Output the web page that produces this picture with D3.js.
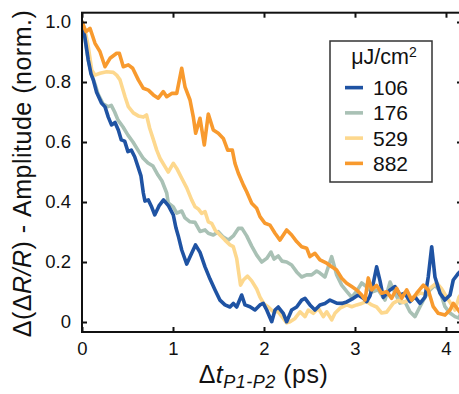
<!DOCTYPE html>
<html><head><meta charset="utf-8">
<script src="https://cdn.jsdelivr.net/npm/d3@7"></script>
<style>
body{margin:0;background:#fff}
text{font-family:"Liberation Sans",Arial,Helvetica,sans-serif;fill:#111}
</style>
</head><body>
<svg id="chart" width="459" height="394"></svg>
<script>
// ---- data ----
const seriesNames = ["106", "176", "529", "882"];
const seriesColors = ["#1f53a3", "#a9c1b5", "#fdd88e", "#f89a2e"];

const t106 = [0,0.033,0.069,0.099,0.124,0.159,0.214,0.253,0.289,0.324,0.363,0.399,0.432,0.469,0.505,0.542,0.579,0.615,0.648,0.674,0.692,0.729,0.766,0.799,0.846,0.896,0.951,1.003,1.033,1.058,1.096,1.151,1.205,1.247,1.297,1.352,1.407,1.462,1.516,1.571,1.626,1.663,1.7,1.755,1.791,1.846,1.901,1.956,1.992,2.03,2.085,2.121,2.157,2.212,2.249,2.304,2.359,2.414,2.451,2.505,2.56,2.615,2.67,2.725,2.799,2.854,2.909,2.981,3.036,3.091,3.129,3.165,3.201,3.238,3.275,3.311,3.385,3.44,3.495,3.549,3.604,3.659,3.714,3.769,3.805,3.843,3.879,3.934,3.989,4.044,4.08,4.135,4.176];
const v106 = [1.0,0.947,0.873,0.827,0.807,0.767,0.73,0.717,0.683,0.657,0.665,0.64,0.607,0.603,0.568,0.573,0.551,0.518,0.487,0.43,0.403,0.407,0.383,0.357,0.387,0.407,0.387,0.357,0.313,0.287,0.24,0.193,0.229,0.257,0.232,0.184,0.143,0.107,0.073,0.057,0.05,0.062,0.05,0.09,0.057,0.051,0.04,0.057,0.062,0.04,0.001,0.04,0.05,0.029,0.001,0.04,0.05,0.073,0.079,0.057,0.04,0.057,0.062,0.073,0.063,0.062,0.067,0.079,0.09,0.079,0.068,0.087,0.129,0.184,0.137,0.082,0.107,0.118,0.09,0.096,0.068,0.084,0.062,0.083,0.15,0.251,0.15,0.096,0.073,0.09,0.14,0.162,0.173];

const t176 = [0,0.022,0.066,0.107,0.143,0.176,0.231,0.286,0.322,0.359,0.396,0.451,0.505,0.56,0.615,0.67,0.725,0.78,0.835,0.879,0.931,0.948,1.003,1.041,1.096,1.132,1.187,1.242,1.297,1.352,1.388,1.443,1.498,1.553,1.608,1.663,1.718,1.758,1.81,1.865,1.92,1.975,2.03,2.077,2.11,2.157,2.198,2.249,2.304,2.359,2.414,2.469,2.524,2.579,2.615,2.67,2.744,2.799,2.854,2.909,2.964,3.019,3.074,3.129,3.184,3.256,3.33,3.385,3.44,3.495,3.549,3.604,3.659,3.714,3.769,3.824,3.879,3.934,3.989,4.044,4.099,4.143,4.176];
const v176 = [1.0,0.963,0.877,0.823,0.793,0.76,0.727,0.718,0.722,0.7,0.673,0.65,0.623,0.6,0.573,0.547,0.53,0.52,0.49,0.47,0.43,0.397,0.384,0.363,0.37,0.347,0.334,0.332,0.302,0.307,0.296,0.29,0.301,0.283,0.273,0.287,0.312,0.312,0.287,0.253,0.223,0.2,0.212,0.233,0.21,0.22,0.203,0.2,0.19,0.167,0.15,0.157,0.157,0.17,0.163,0.15,0.218,0.157,0.123,0.102,0.082,0.103,0.13,0.117,0.1,0.107,0.073,0.133,0.097,0.063,0.068,0.034,0.018,0.051,0.083,0.107,0.123,0.103,0.051,0.03,0.018,0.013,0.04];

const t529 = [0,0.033,0.069,0.107,0.143,0.198,0.271,0.344,0.381,0.418,0.473,0.509,0.564,0.619,0.674,0.709,0.744,0.78,0.821,0.857,0.912,0.948,1.003,1.041,1.096,1.151,1.205,1.242,1.278,1.315,1.352,1.388,1.425,1.462,1.516,1.571,1.626,1.663,1.7,1.718,1.742,1.773,1.819,1.865,1.92,1.956,2.0,2.047,2.102,2.157,2.212,2.249,2.286,2.341,2.396,2.451,2.487,2.542,2.597,2.652,2.689,2.744,2.78,2.835,2.909,2.964,3.019,3.074,3.129,3.184,3.238,3.293,3.348,3.421,3.476,3.531,3.586,3.64,3.714,3.769,3.824,3.898,3.953,4.008,4.063,4.099,4.143,4.176];
const v529 = [1.0,0.973,0.918,0.84,0.823,0.829,0.834,0.832,0.823,0.807,0.751,0.718,0.697,0.687,0.683,0.69,0.646,0.612,0.573,0.546,0.518,0.5,0.529,0.512,0.479,0.447,0.407,0.384,0.377,0.362,0.368,0.334,0.329,0.307,0.29,0.273,0.257,0.251,0.212,0.173,0.123,0.14,0.153,0.137,0.11,0.083,0.06,0.05,0.034,0.034,0.012,-0.003,0.001,0.012,0.034,0.018,0.04,0.029,0.046,0.018,0.034,0.007,0.029,0.046,0.057,0.051,0.057,0.062,0.068,0.057,0.05,0.03,0.033,0.063,0.072,0.065,0.073,0.083,0.097,0.093,0.113,0.13,0.11,0.083,0.057,0.04,0.083,0.097];

const t882 = [0,0.044,0.088,0.143,0.198,0.253,0.308,0.381,0.41,0.454,0.509,0.557,0.619,0.674,0.729,0.784,0.838,0.893,0.931,0.986,1.041,1.096,1.132,1.187,1.223,1.249,1.297,1.344,1.388,1.443,1.498,1.553,1.601,1.652,1.681,1.718,1.773,1.81,1.865,1.92,1.956,2.011,2.066,2.121,2.176,2.249,2.304,2.359,2.414,2.469,2.505,2.56,2.615,2.689,2.744,2.799,2.854,2.909,2.964,3.019,3.074,3.11,3.146,3.184,3.238,3.293,3.348,3.403,3.458,3.513,3.568,3.623,3.678,3.751,3.805,3.86,3.915,3.989,4.044,4.08,4.135,4.176];
const v882 = [1.0,0.968,0.979,0.929,0.901,0.851,0.879,0.896,0.896,0.851,0.857,0.846,0.807,0.779,0.773,0.757,0.746,0.768,0.751,0.762,0.762,0.846,0.784,0.74,0.684,0.629,0.679,0.59,0.693,0.64,0.629,0.612,0.573,0.573,0.529,0.496,0.457,0.434,0.396,0.379,0.351,0.329,0.323,0.296,0.273,0.307,0.29,0.268,0.251,0.246,0.218,0.229,0.207,0.196,0.184,0.173,0.146,0.129,0.118,0.107,0.09,0.073,0.147,0.107,0.122,0.096,0.101,0.079,0.112,0.079,0.107,0.073,0.096,0.123,0.107,0.051,0.029,0.023,0.04,0.062,0.04,0.023];

const xTickValues = [0, 1, 2, 3, 4];
const yTickValues = [0, 0.2, 0.4, 0.6, 0.8, 1.0];
const yTickLabels = ["0", "0.2", "0.4", "0.6", "0.8", "1.0"];

// ---- build ----
const seriesT = [t106, t176, t529, t882];
const seriesV = [v106, v176, v529, v882];
const data = seriesNames.map((name, i) => ({
  name, color: seriesColors[i],
  points: seriesT[i].map((t, j) => ({t, v: seriesV[i][j]}))
}));

const svg = d3.select("#chart");
const L = 82, R = 462, T = 12.7, B = 332;
const x = d3.scaleLinear().domain([0, 4.176]).range([L, R]);
const y = d3.scaleLinear().domain([-0.0333, 1.031]).range([B, T]);

svg.append("defs").append("clipPath").attr("id", "clip")
  .append("rect").attr("x", L).attr("y", T).attr("width", R - L).attr("height", B - T);

const line = d3.line().x(d => x(d.t)).y(d => y(d.v));
const drawOrder = [1, 2, 0, 3];
const g = svg.append("g").attr("clip-path", "url(#clip)");
drawOrder.forEach(i => {
  g.append("path").datum(data[i].points)
    .attr("d", line).attr("fill", "none")
    .attr("stroke", data[i].color).attr("stroke-width", 3.6)
    .attr("stroke-linejoin", "round").attr("stroke-linecap", "round");
});

// axes
function styleAxis(sel) {
  sel.select(".domain").remove();
  sel.selectAll(".tick line").attr("stroke", "#111").attr("stroke-width", 2);
  sel.selectAll(".tick text").attr("font-size", 18.5).attr("fill", "#111")
     .attr("font-family", '"Liberation Sans",Arial,sans-serif');
}
svg.append("g").attr("transform", `translate(0,${B})`)
  .call(d3.axisBottom(x).tickValues(xTickValues).tickFormat(d3.format("d")).tickSizeInner(-5).tickSizeOuter(0).tickPadding(10))
  .call(styleAxis);
svg.append("g").attr("transform", `translate(0,${T})`)
  .call(d3.axisTop(x).tickValues(xTickValues).tickFormat("").tickSizeInner(-5).tickSizeOuter(0))
  .call(styleAxis);
svg.append("g").attr("transform", `translate(${L},0)`)
  .call(d3.axisLeft(y).tickValues(yTickValues).tickFormat((d, i) => yTickLabels[i]).tickSizeInner(-5).tickSizeOuter(0).tickPadding(11))
  .call(styleAxis);
svg.append("g").attr("transform", `translate(${R},0)`)
  .call(d3.axisRight(y).tickValues(yTickValues).tickFormat("").tickSizeInner(-5).tickSizeOuter(0))
  .call(styleAxis);

// frame
svg.append("rect").attr("x", L).attr("y", T).attr("width", R - L).attr("height", B - T)
  .attr("fill", "none").attr("stroke", "#111").attr("stroke-width", 2);

// axis titles
const xt = svg.append("text").attr("x", 263.5).attr("y", 383).attr("text-anchor", "middle")
  .attr("font-size", 25).attr("letter-spacing", 0.5);
xt.append("tspan").text("Δ");
xt.append("tspan").attr("font-style", "italic").text("t");
xt.append("tspan").attr("font-style", "italic").attr("font-size", 18).attr("dy", 5).text("P1-P2");
xt.append("tspan").attr("dy", -5).text(" (ps)");

const yt = svg.append("text").attr("transform", "translate(31,173.5) rotate(-90)")
  .attr("text-anchor", "middle").attr("font-size", 25).attr("letter-spacing", 0.5);
yt.append("tspan").text("Δ(Δ");
yt.append("tspan").attr("font-style", "italic").text("R/R");
yt.append("tspan").text(") - Amplitude (norm.)");

// legend
const lg = svg.append("g");
lg.append("rect").attr("x", 330).attr("y", 41).attr("width", 102).attr("height", 141)
  .attr("fill", "#fff").attr("stroke", "#333").attr("stroke-width", 1.5);
const lt = lg.append("text").attr("x", 384).attr("y", 64).attr("text-anchor", "middle").attr("font-size", 21.5);
lt.append("tspan").text("μJ/cm");
lt.append("tspan").attr("font-size", 14).attr("dy", -7).text("2");
const legY = d3.scaleBand().domain(seriesNames).range([75, 176]);
seriesNames.forEach((name, i) => {
  const cy = legY(name) + legY.bandwidth() / 2;
  lg.append("line").attr("x1", 345).attr("x2", 363).attr("y1", cy).attr("y2", cy)
    .attr("stroke", seriesColors[i]).attr("stroke-width", 3.6);
  lg.append("text").attr("x", 373).attr("y", cy).attr("dy", "0.36em").attr("font-size", 21).text(name);
});
</script>
</body></html>
